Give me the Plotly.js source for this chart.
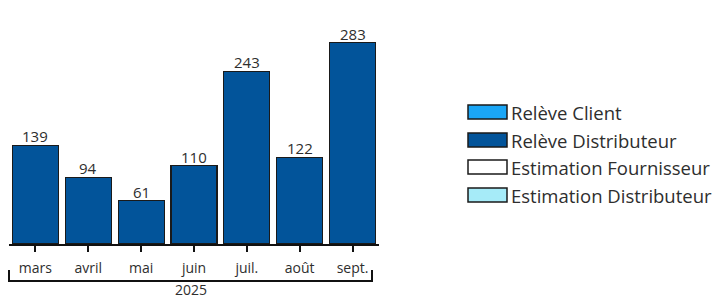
<!DOCTYPE html>
<html><head><meta charset="utf-8">
<script src="https://cdn.plot.ly/plotly-3.0.1.min.js"></script>
<style>html,body{margin:0;padding:0;background:#fff;}#chart{width:712px;height:295px;}</style>
</head><body><div id="chart"></div>
<script>
const months = ["mars", "avril", "mai", "juin", "juil.", "août", "sept."];
const yearLabel = "2025";
const seriesNames = ["Relève Client", "Relève Distributeur", "Estimation Fournisseur", "Estimation Distributeur"];
const seriesColors = ["#1aa6f6", "#02549a", "#ffffff", "#a6ebf8"];
const releveClient = [null, null, null, null, null, null, null];
const releveDistributeur = [139, 94, 61, 110, 243, 122, 283];
const estimationFournisseur = [null, null, null, null, null, null, null];
const estimationDistributeur = [null, null, null, null, null, null, null];
const seriesValues = [releveClient, releveDistributeur, estimationFournisseur, estimationDistributeur];

const W = 712, H = 295;
const M = {l: 9, r: 333, t: 20, b: 51};
const pw = W - M.l - M.r, ph = H - M.t - M.b;
const px = x => (x - M.l) / pw;
const py = y => (H - M.b - y) / ph;
const FONT = "Open Sans, Noto Sans, DejaVu Sans, sans-serif";
const WT = 400;
const TXT = "#2e2e2e";

const traces = seriesValues.map((vals, i) => ({
  type: "bar",
  name: seriesNames[i],
  x: months,
  y: vals,
  marker: {color: seriesColors[i], line: {color: "#1a1a1a", width: 1.2}},
  showlegend: false,
  hoverinfo: "skip"
}));

const shapes = [];
const annotations = [];
// value labels above bars (totals)
months.forEach((m, i) => {
  const tot = seriesValues.reduce((s, arr) => s + (arr[i] || 0), 0);
  annotations.push({x: m, y: tot, xref: "x", yref: "y", yanchor: "bottom",
    text: String(tot), showarrow: false, yshift: -3,
    font: {family: FONT, size: 15, color: TXT, weight: WT}});
});
// legend
const rowY = [112, 140, 167, 195];
seriesNames.forEach((n, i) => {
  shapes.push({type: "rect", xref: "paper", yref: "paper",
    x0: px(468), x1: px(507), y0: py(rowY[i] - 7), y1: py(rowY[i] + 7),
    fillcolor: seriesColors[i], line: {color: "#1a1a1a", width: 1.5}});
  annotations.push({xref: "paper", yref: "paper", x: px(509), y: py(rowY[i]),
    xanchor: "left", yanchor: "middle", text: n, showarrow: false,
    font: {family: FONT, size: 18.5, color: TXT, weight: WT}});
});
// year bracket
shapes.push({type: "path", xref: "paper", yref: "paper",
  path: `M ${px(9)} ${py(270)} L ${px(9)} ${py(281)} L ${px(372)} ${py(281)} L ${px(372)} ${py(270)}`,
  line: {color: "#111", width: 2}});
annotations.push({xref: "paper", yref: "paper", x: px(190.5), y: py(279),
  xanchor: "center", yanchor: "top", text: yearLabel, showarrow: false, borderpad: 0,
  font: {family: FONT, size: 14, color: TXT, weight: WT}});

const layout = {
  width: W, height: H,
  margin: M,
  paper_bgcolor: "#fff", plot_bgcolor: "#fff",
  barmode: "stack",
  bargap: 0.13,
  showlegend: false,
  xaxis: {
    type: "category",
    showline: true, linecolor: "#111", linewidth: 2,
    ticks: "outside", ticklen: 6, tickwidth: 2, tickcolor: "#111",
    tickfont: {family: FONT, size: 14, color: TXT, weight: WT},
    ticklabelstandoff: 4,
    showgrid: false, zeroline: false, fixedrange: true
  },
  yaxis: {
    range: [0, 315], visible: false, showgrid: false, zeroline: false, fixedrange: true
  },
  shapes: shapes,
  annotations: annotations
};

Plotly.newPlot("chart", traces, layout, {displayModeBar: false, staticPlot: true});
</script>
</body></html>
